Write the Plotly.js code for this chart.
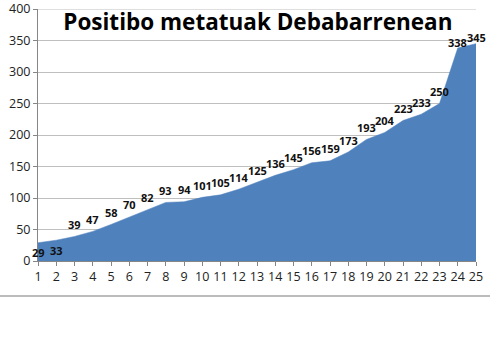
<!DOCTYPE html>
<html>
<head>
<meta charset="utf-8">
<script src="https://cdn.plot.ly/plotly-3.0.1.min.js"></script>
<style>html,body{margin:0;padding:0;background:#fff;}#chart{width:490px;height:360px;}</style>
</head>
<body>
<div id="chart"></div>
<script>
const categories = ["1","2","3","4","5","6","7","8","9","10","11","12","13","14","15","16","17","18","19","20","21","22","23","24","25"];
const positives = [29,33,39,47,58,70,82,93,94,101,105,114,125,136,145,156,159,173,193,204,223,233,250,338,345];
const chartTitle = "Positibo metatuak Debabarrenean";
const yTicks = [0,50,100,150,200,250,300,350,400];

const area = {
  x: categories, y: positives, type: "scatter", mode: "lines",
  fill: "tozeroy", fillcolor: "#4F81BD",
  line: {color: "#4F81BD", width: 0.5},
  hoverinfo: "skip"
};

const annotations = positives.map((v, i) => ({
  x: i, y: v, xref: "x", yref: "y",
  text: String(v), showarrow: false,
  xanchor: "center", yanchor: "middle",
  yshift: i < 2 ? -10 : (v > 300 ? 6 : 12),
  font: {family: "Open Sans", size: 11, color: "#111", weight: "bold"}
}));

const layout = {
  width: 490, height: 360,
  margin: {l: 38, r: 14, t: 9, b: 99},
  paper_bgcolor: "#fff", plot_bgcolor: "#fff",
  showlegend: false,
  title: {text: "<b>" + chartTitle + "</b>", font: {family: "Open Sans", size: 22.5, color: "#000"},
          x: 0.502, xanchor: "center", y: 0.938, yanchor: "middle", xref: "paper", yref: "container"},
  xaxis: {
    type: "category", range: [0, 24], showgrid: false, showline: true,
    linecolor: "#868686", linewidth: 1, ticks: "outside", ticklen: 4, tickcolor: "#868686",
    tickfont: {family: "Open Sans", size: 12.5, color: "#222"}, fixedrange: true
  },
  yaxis: {
    range: [0, 400], tickmode: "array", tickvals: yTicks, ticktext: yTicks.map(String),
    ticklabeloverflow: "allow",
    showgrid: true, gridcolor: "#BFBFBF", gridwidth: 1, zeroline: false,
    showline: true, linecolor: "#868686", linewidth: 1,
    ticks: "outside", ticklen: 4, tickcolor: "#868686",
    tickfont: {family: "Open Sans", size: 12.5, color: "#222"}, fixedrange: true
  },
  annotations: annotations,
  shapes: [{
    type: "line", xref: "paper", yref: "paper",
    x0: -0.0868, x1: 1.032, y0: -0.139, y1: -0.139,
    line: {color: "#A6A6A6", width: 1.5}
  }, {
    type: "line", xref: "paper", yref: "y",
    x0: 0, x1: 1, y0: 400, y1: 400,
    line: {color: "#BFBFBF", width: 1}
  }]
};

Plotly.newPlot("chart", [area], layout, {staticPlot: true, displayModeBar: false});
</script>
</body>
</html>
